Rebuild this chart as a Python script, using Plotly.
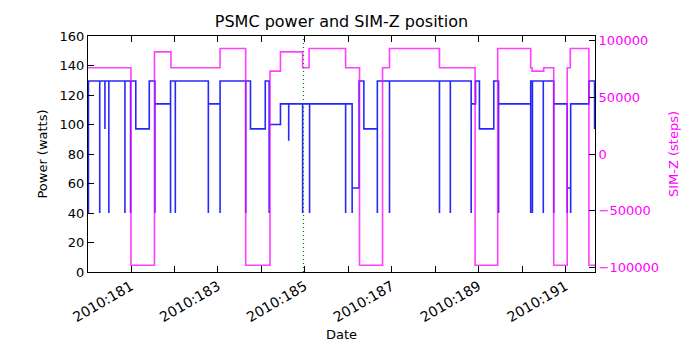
import plotly.graph_objects as go

# Day of year 2010 (fractional) and PSMC power (watts), step data
power_days = [
    180.02, 180.02, 180.28, 180.28, 180.40, 180.40, 180.49, 180.49,
    180.86, 180.86, 180.99, 180.99, 181.11, 181.42, 181.55, 181.55,
    181.91, 181.91, 182.02, 182.02, 182.78, 182.78, 183.05, 183.05,
    183.64, 183.64, 183.75, 184.09, 184.18, 184.18, 184.44, 184.63,
    184.63, 184.95, 184.95, 185.11, 185.11, 185.94, 185.94, 186.09,
    186.09, 186.25, 186.36, 186.67, 186.67, 186.95, 186.95, 188.10,
    188.10, 188.35, 188.35, 188.83, 188.83, 188.93, 189.02, 189.35,
    189.46, 189.46, 190.20, 190.20, 190.24, 190.24, 190.49, 190.49,
    190.73, 190.73, 191.04, 191.04, 191.12, 191.12, 191.54, 191.67,
]
power_watts = [
    40, 129.5, 40, 129.5, 97, 129.5, 40, 129.5,
    40, 129.5, 40, 129.5, 97, 129.5, 40, 114,
    40, 129.5, 40, 129.5, 40, 114, 40, 129.5,
    40, 129.5, 97, 129.5, 40, 100, 114, 89,
    114, 40, 114, 40, 114, 40, 114, 40,
    57, 129.5, 97, 40, 129.5, 40, 129.5, 40,
    129.5, 40, 129.5, 40, 114, 129.5, 97, 129.5,
    40, 114, 40, 129.5, 40, 129.5, 40, 129.5,
    40, 114, 40, 57, 40, 114, 129.5, 97,
]

# SIM-Z position (steps), step data
simz_days = [
    180.0, 181.0, 181.54, 181.92, 183.05, 183.64, 184.20, 184.44,
    184.95, 185.10, 185.94, 186.26, 186.79, 186.95, 188.10, 188.92,
    189.44, 190.20, 190.23, 190.50, 190.73, 191.04, 191.11, 191.54,
    191.70,
]
simz_steps = [
    76000, -98000, 90000, 76000, 93000, -98000, 73000, 90000,
    76000, 93000, 76000, -98000, 76000, 93000, 76000, -98000,
    93000, 76000, 73000, 76000, -98000, 76000, 93000, -98000,
    -98000,
]

marker_day = 184.97

tick_days = list(range(181, 192))
tick_labels = [f"2010:{d}" if d % 2 == 1 else "" for d in tick_days]

fig = go.Figure()
fig.add_trace(
    go.Scatter(
        x=power_days, y=power_watts, mode="lines", line_shape="hv",
        line=dict(color="rgba(0,0,255,0.85)", width=1.6), name="Power",
    )
)
fig.add_trace(
    go.Scatter(
        x=simz_days, y=simz_steps, mode="lines", line_shape="hv", yaxis="y2",
        line=dict(color="rgba(255,0,255,0.75)", width=1.6), name="SIM-Z",
    )
)
fig.add_vline(x=marker_day, line=dict(color="green", width=1.2, dash="1px,3px"))

axis_font = dict(family="DejaVu Sans", size=13, color="black")
fig.update_layout(
    width=700,
    height=350,
    margin=dict(l=88, r=105, t=36, b=78),
    paper_bgcolor="white",
    plot_bgcolor="white",
    showlegend=False,
    font=dict(family="DejaVu Sans", size=13, color="black"),
    title=dict(
        text="PSMC power and SIM-Z position",
        x=341.5 / 700, xanchor="center",
        y=0.94, yanchor="middle",
        font=dict(family="DejaVu Sans", size=16, color="black"),
    ),
    xaxis=dict(
        range=[180.01, 191.68],
        tickvals=tick_days, ticktext=tick_labels, tickangle=-30,
        ticks="inside", ticklen=6, tickcolor="black",
        showline=True, linecolor="black", linewidth=1, mirror="ticks",
        showgrid=False, zeroline=False,
        tickfont=dict(family="DejaVu Sans", size=14, color="black"),
        title=dict(text="Date", font=axis_font, standoff=5),
    ),
    yaxis=dict(
        range=[0, 160], dtick=20,
        ticks="inside", ticklen=6, tickcolor="black",
        showline=True, linecolor="black", linewidth=1,
        showgrid=False, zeroline=False, tickfont=axis_font,
        title=dict(text="Power (watts)", font=axis_font, standoff=9),
    ),
    yaxis2=dict(
        overlaying="y", side="right",
        range=[-104000, 104000], tickvals=[-100000, -50000, 0, 50000, 100000],
        tickformat="d",
        ticks="inside", ticklen=6, tickcolor="black",
        showline=True, linecolor="black", linewidth=1,
        showgrid=False, zeroline=False,
        tickfont=dict(family="DejaVu Sans", size=13, color="#ff00ff"),
        title=dict(text="SIM-Z (steps)", font=dict(family="DejaVu Sans", size=13, color="#ff00ff"), standoff=10),
    ),
)

fig.write_html(
    "out.html",
    config={"displayModeBar": False},
    post_script="document.body.style.margin='0';",
)
